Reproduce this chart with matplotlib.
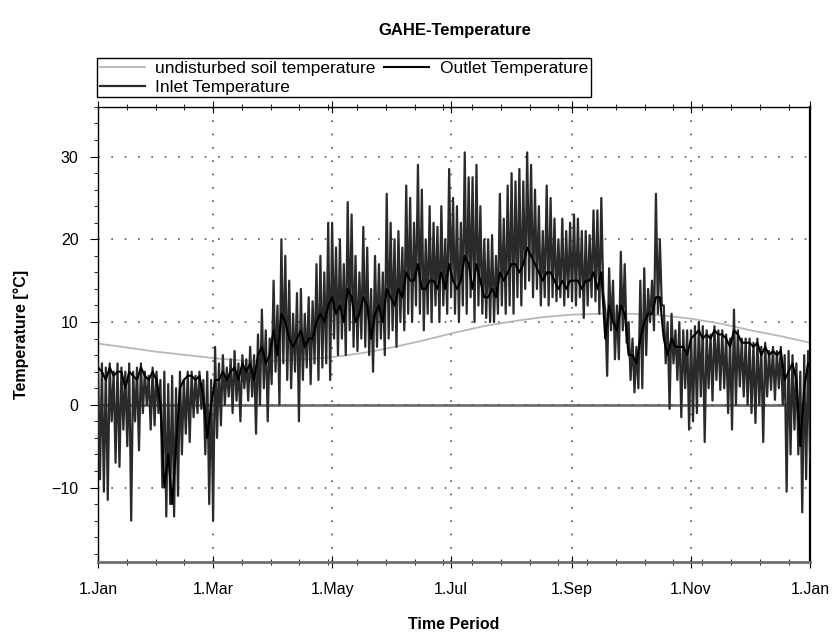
import numpy as np
import matplotlib
matplotlib.use('Agg')
import matplotlib.pyplot as plt
from matplotlib.ticker import AutoMinorLocator

plt.rcParams['font.family'] = ['Liberation Sans', 'DejaVu Sans']

# ---- data (2-day blocks, day 0 = 1.Jan) ----
block_days = np.arange(0, 365, 2)

# inlet temperature: block maximum / minimum
inlet_hi = [
    5, 5, 4.5, 5, 4, 5, 4.5, 4, 5, 4, 4.5, 5, 4, 3.5, 4.5, 4,                  # Jan
    3, 4, 2.5, 3.5, 2, 4, 3, 4, 4, 3.5, 4, 3, 4, 3,                            # Feb
    7, 5, 6, 4.5, 5.5, 6.5, 5, 6, 5.5, 7, 6, 8.5, 11.5, 9, 8,                  # Mar
    15, 12, 20, 18, 15, 11, 13.5, 14, 11, 13, 12.5, 17, 18, 16, 22,            # Apr
    22, 19, 20, 17, 24.5, 23, 18, 16, 21.5, 19, 14, 18, 17, 16, 25.5, 22,      # May
    20, 21, 19, 26.5, 25, 22, 29, 26, 20, 24, 22, 21.5, 24, 20, 28.5,          # Jun
    25, 24, 22, 30.5, 27.5, 27.5, 29, 24, 20, 20, 20.5, 18, 25.5, 22.5, 26.5, 28,  # Jul
    27, 28.5, 27, 30.5, 29, 26, 24, 21, 26.5, 25, 22.5, 20, 22.5, 21, 22,      # Aug
    23, 22.5, 21, 21, 20.5, 23.5, 23.5, 25, 11.5, 16.5, 15, 12, 18.5, 17, 10,  # Sep
    8, 7, 15, 16.5, 14, 15, 25.5, 20, 12, 10, 11, 9, 10, 9, 9,                 # Oct
    9, 9.5, 10, 9.5, 9, 8.5, 9.5, 9, 9, 8.5, 8, 11.5, 9, 8, 8,                 # Nov
    8, 7.5, 8, 7, 7.5, 6.5, 7, 6.5, 7, 6, 6.5, 6, 5, 4, 6, 6.5,                # Dec
]
inlet_lo = [
    -9, -10.5, -11.5, -2, -7, -7.5, -3, -5, -14, -2, -5.5, -1, 0, -3, -2.5, -1,
    -10, -13.5, -12, -13.5, -11, -6, -3.5, -4.5, -1.5, -1, -0.5, -6, -12, -14,
    -4, -2.5, 0, 1, -1, 0.5, -2, 2, 0.5, 1, -3.5, 0, 2, -2, 2.5,
    4, 0, 5, 3, 2, 4, -2, 3, 4.5, 2.5, 5, 3, 4.5, 5, 3,
    8, 6, 8, 6, 9, 7, 6.5, 8, 7, 6, 4, 7, 8, 6, 8, 9,
    7, 10, 9, 11, 10, 12, 11, 9, 11, 10, 12, 10, 12, 11, 13,
    11, 10, 12, 11, 13, 10, 12, 11, 10.5, 10, 10, 11, 12, 11, 12, 11,
    13, 12, 14, 15, 13, 14, 12, 13, 12, 13, 12.5, 13, 12, 13, 12.5,
    12, 13, 10.5, 12, 13, 12.5, 11, 13.5, 3.5, 9, 5.5, 5.5, 9, 7.5, 3,
    1.5, 2, 2, 6, 10, 9, 11, 12, 5, -0.5, 5, 3, -1.5, 2, -3,
    -2, -1, 1, -4.5, 2, 0.5, 3, 1.8, 2, -1, -3, 0, 2.2, 1, 0,
    -1, -2.2, 0, -4.5, 1, 1.8, 0.6, 2, 0, -10.5, -6, -3, -6, -13, -9, -6.5,
]

# outlet temperature (2-day blocks)
outlet = [
    4.5, 4, 3, 4.5, 3.5, 4, 4, 2, 4, 3.5, 3, 4.5, 3.5, 3, 4, 3,
    0, -10, -6, -12, -5, 2, 3, 3.5, 3.5, 3, 3.5, 1, -4, 0,
    3, 3, 4, 3, 4, 4.5, 3, 5, 4, 5, 3, 6, 7, 5, 6,
    9, 6, 11, 10, 8, 7, 8, 9, 7, 8, 8, 10, 11, 10, 12,
    13, 11, 12, 10, 14, 13, 10, 11, 13, 12, 8, 11, 12, 10, 14, 13,
    12, 14, 13, 16, 15, 15, 17, 14, 14, 15, 15, 14, 16, 14, 17,
    15, 14, 15, 18, 17, 14, 17, 15, 13, 13, 14, 13, 16, 15, 16, 17,
    17, 16, 17, 19, 18, 17, 16, 15, 16, 16, 15, 14, 15, 14, 15,
    15, 15, 14, 15, 15, 16, 14, 16, 8, 12, 10, 9, 12, 11, 6,
    6, 5, 8, 10, 11, 11, 13, 13, 8, 6, 8, 7, 7, 7, 6,
    8, 8.5, 9, 8, 8.5, 8, 9, 8.5, 8.5, 8, 7, 9, 8.5, 7.5, 7.5,
    7.5, 7, 7.5, 6, 7, 6, 6.5, 6, 6.5, 3, 4, 5, 3, -5, 2, 5,
]

# undisturbed soil temperature, about every half month
soil_days = np.linspace(0, 365, 25)
soil = [7.4, 6.9, 6.4, 6.0, 5.6, 5.3, 5.3, 5.5, 5.8, 6.3, 7.0, 7.8, 8.7,
        9.5, 10.1, 10.6, 10.9, 11.0, 11.0, 10.8, 10.4, 9.8, 9.0, 8.3, 7.5]

tick_days = [0, 59, 120, 181, 243, 304, 365]
tick_names = ['1.Jan', '1.Mar', '1.May', '1.Jul', '1.Sep', '1.Nov', '1.Jan']

# ---- figure ----
fig = plt.figure(figsize=(8.37, 6.32), dpi=100)
ax = fig.add_axes([0.1171, 0.1108, 0.8507, 0.72])

# inlet as zigzag between block max (day d) and block min (day d+1)
zx = np.column_stack([block_days, block_days + 1]).ravel()
zy = np.column_stack([inlet_hi, inlet_lo]).ravel()

ax.axhline(0, color='#707070', lw=2.0, zorder=1)
l_soil, = ax.plot(soil_days, soil, color='#b8b8b8', lw=1.3, zorder=2)
l_in, = ax.plot(zx, zy, color='#2a2a2a', lw=1.6, zorder=3)
l_out, = ax.plot(block_days, outlet, color='black', lw=1.5, zorder=4)

ax.set_xlim(0, 365)
ax.set_ylim(-19, 36)
ax.set_xticks(tick_days)
ax.set_xticklabels(tick_names)
ax.set_yticks([-10, 0, 10, 20, 30])
ax.xaxis.set_minor_locator(AutoMinorLocator(4))
ax.yaxis.set_minor_locator(AutoMinorLocator(5))
ax.tick_params(axis='x', which='both', direction='inout', top=True, labelsize=11.5, pad=10)
ax.tick_params(axis='x', which='major', length=9)
ax.tick_params(axis='x', which='minor', length=5)
ax.tick_params(axis='y', which='both', direction='out', labelsize=11.5, pad=8)
ax.tick_params(axis='y', which='major', length=6)
ax.tick_params(axis='y', which='minor', length=3)

ax.grid(True, which='major', linestyle=(0, (1, 7)), color='#555555', lw=1.2)

for side in ['top', 'left']:
    ax.spines[side].set_linewidth(1.0)
ax.spines['right'].set_linewidth(1.6)
ax.spines['bottom'].set_color('#707070')
ax.spines['bottom'].set_linewidth(2.0)

ax.set_xlabel('Time Period', fontsize=11.5, fontweight='bold', labelpad=14)
ax.set_ylabel('Temperature [°C]', fontsize=11.5, fontweight='bold', labelpad=16)
fig.text(0.543, 0.952, 'GAHE-Temperature', ha='center', va='center',
         fontsize=12, fontweight='bold')

leg = fig.legend([l_soil, l_in, l_out],
                 ['undisturbed soil temperature', 'Inlet Temperature', 'Outlet Temperature'],
                 ncol=2, loc='lower left', bbox_to_anchor=(0.116, 0.846),
                 fontsize=12.5, frameon=True, fancybox=False, edgecolor='black',
                 framealpha=1, borderpad=0.15, labelspacing=0.2, handlelength=2.6,
                 handletextpad=0.6, columnspacing=0.5, borderaxespad=0)
leg.get_frame().set_linewidth(1.0)

fig.savefig('out.png', dpi=100)
